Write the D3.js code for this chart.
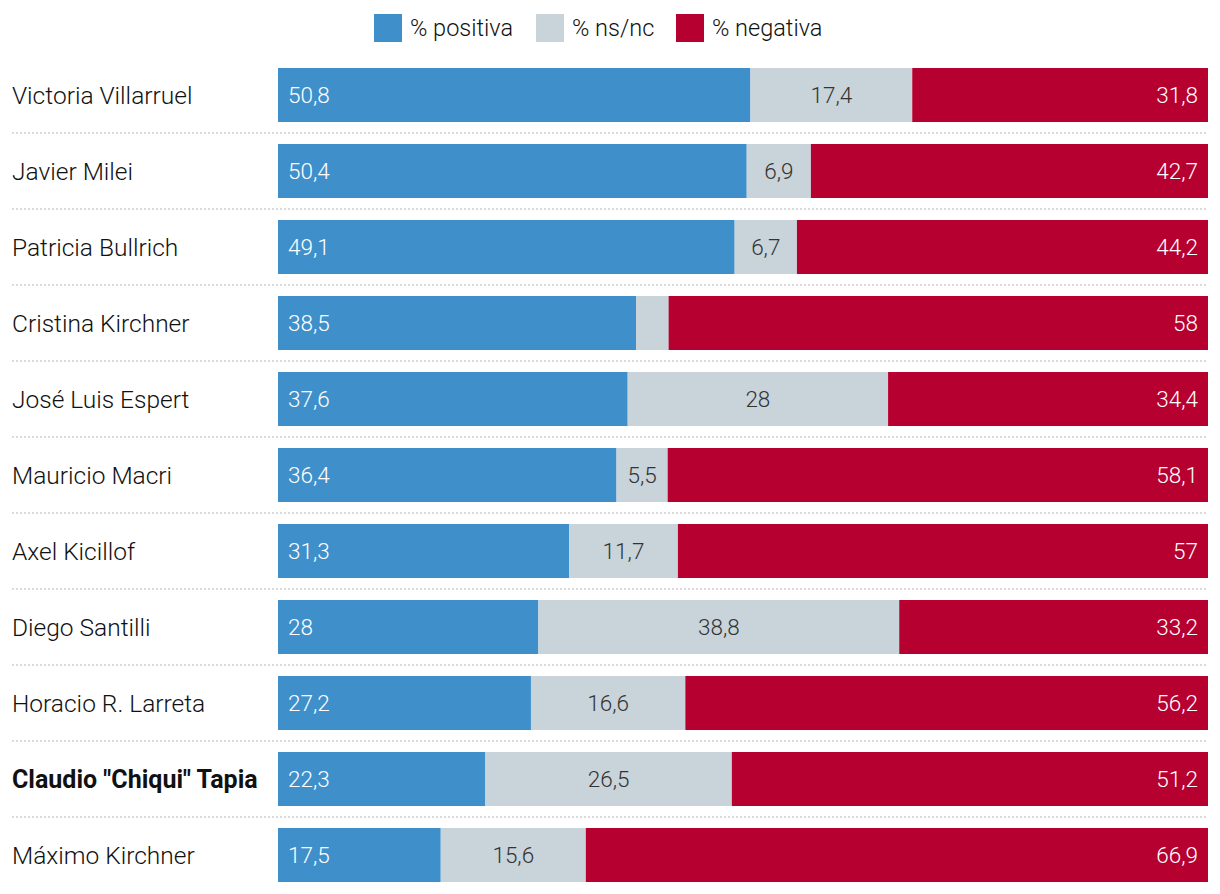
<!DOCTYPE html>
<html><head><meta charset="utf-8">
<script src="https://cdn.jsdelivr.net/npm/d3@7"></script>
<style>
body{margin:0;background:#fff;}
text{font-family:Roboto, "Open Sans", sans-serif;}
</style></head>
<body><svg id="chart" width="1220" height="894"></svg>
<script>
const categories = ["Victoria Villarruel","Javier Milei","Patricia Bullrich","Cristina Kirchner","José Luis Espert","Mauricio Macri","Axel Kicillof","Diego Santilli","Horacio R. Larreta","Claudio \"Chiqui\" Tapia","Máximo Kirchner"];
const positiva = [50.8,50.4,49.1,38.5,37.6,36.4,31.3,28,27.2,22.3,17.5];
const nsnc = [17.4,6.9,6.7,3.5,28,5.5,11.7,38.8,16.6,26.5,15.6];
const negativa = [31.8,42.7,44.2,58,34.4,58.1,57,33.2,56.2,51.2,66.9];
const seriesNames = ["% positiva","% ns/nc","% negativa"];
const colors = ["#3f8fcb","#c8d3da","#b60030"];
const highlight = "Claudio \"Chiqui\" Tapia";

const svg = d3.select("#chart");
const x = d3.scaleLinear().domain([0,100]).range([278,1208]);
const y = d3.scaleBand().domain(categories).range([68-11,882+11]).paddingInner(22/76).paddingOuter(11/76);
const fmt = v => String(v).replace(".", ",");

const rows = categories.map((c,i)=>({c, vals:[positiva[i],nsnc[i],negativa[i]]}));

// separators
svg.append("g").selectAll("line").data(categories.slice(0,-1)).join("line")
  .attr("x1",12).attr("x2",1208)
  .attr("y1",d=>y(d)+y.bandwidth()+11).attr("y2",d=>y(d)+y.bandwidth()+11)
  .attr("stroke","#cfcfcf").attr("stroke-width",1.5).attr("stroke-dasharray","2,2");

// names
svg.append("g").selectAll("text").data(categories).join("text")
  .attr("x",12).attr("y",d=>y(d)+y.bandwidth()/2).attr("dy","0.36em")
  .attr("font-size",d=>d===highlight?25:24.5).attr("fill","#111")
  .attr("font-weight",d=>d===highlight?700:300)
  .text(d=>d);

// bars
rows.forEach(r=>{
  let acc=0;
  const g = svg.append("g");
  r.vals.forEach((v,k)=>{
    const x0=x(acc), x1=x(acc+v);
    g.append("rect").attr("x",x0).attr("y",y(r.c)).attr("width",x1-x0).attr("height",y.bandwidth()).attr("fill",colors[k]);
    const w = x1-x0;
    if (w>40){
      const t = g.append("text").attr("y",y(r.c)+y.bandwidth()/2).attr("dy","0.36em")
        .attr("font-size",22.5).attr("font-weight",300).text(fmt(v));
      if(k===0) t.attr("x",x0+10).attr("fill","#fff");
      else if(k===1) t.attr("x",(x0+x1)/2).attr("text-anchor","middle").attr("fill","#333");
      else t.attr("x",x1-10).attr("text-anchor","end").attr("fill","#fff");
    }
    acc+=v;
  });
});

// legend
const legX=[374,536,676];
const lg = svg.append("g");
seriesNames.forEach((s,i)=>{
  lg.append("rect").attr("x",legX[i]).attr("y",14).attr("width",28).attr("height",28).attr("fill",colors[i]);
  lg.append("text").attr("x",legX[i]+36).attr("y",28).attr("dy","0.36em").attr("font-size",23.5).attr("font-weight",300).attr("fill","#111").text(s);
});
</script></body></html>
